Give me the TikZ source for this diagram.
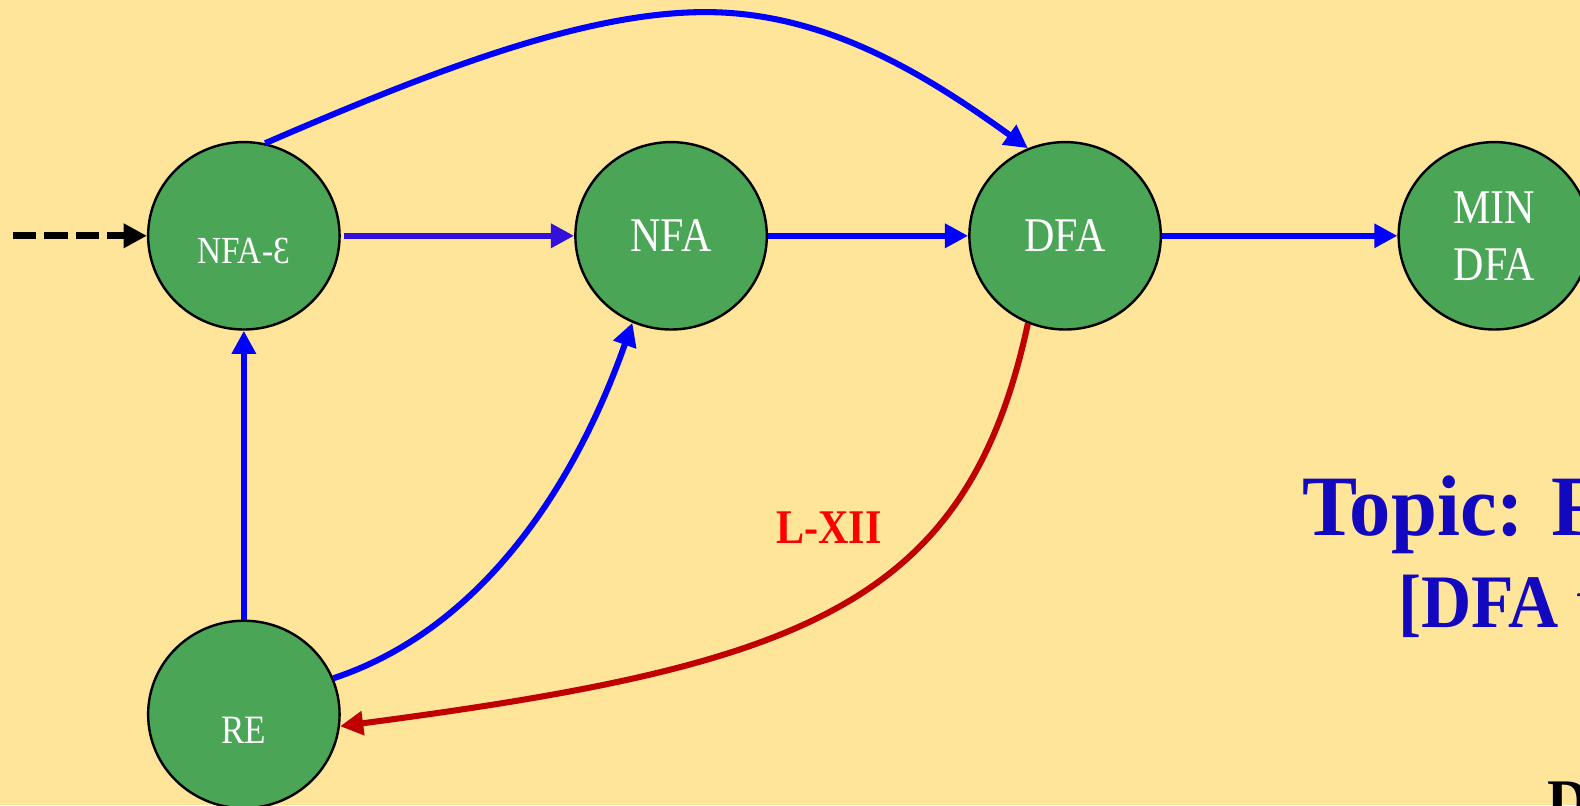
\documentclass[tikz,border=0pt]{standalone}
\usepackage{fontspec}
\usetikzlibrary{arrows.meta,shapes.geometric}
\newfontfamily\statefont{Liberation Serif}[FakeStretch=0.87]
\newfontfamily\topicfont{Liberation Serif}[FakeStretch=0.96]
\newfontfamily\subtopicfont{Liberation Serif}[FakeStretch=0.92]

\definecolor{bg}{RGB}{255,229,153}
\definecolor{stategreen}{RGB}{74,165,87}
\definecolor{edgeblue}{RGB}{0,0,255}
\definecolor{edgeviolet}{RGB}{51,17,217}
\definecolor{edgered}{RGB}{192,0,0}
\definecolor{labelred}{RGB}{255,0,0}
\definecolor{topicblue}{RGB}{18,8,191}

\begin{document}
\begin{tikzpicture}[x=0.5pt,y=-0.5pt,
  state/.style={ellipse, draw=black, line width=1.2pt, fill=stategreen,
    minimum width=95pt, minimum height=93pt, inner sep=0pt,
    text=white, align=center},
  tip/.style={-{Triangle[length=11.5pt,width=11.5pt]}},
  flow/.style={tip, line width=3pt, draw=edgeblue},
  backflow/.style={tip, line width=3pt, draw=edgered},
  entry/.style={tip, line width=3.3pt, draw=black, dash pattern=on 11.5pt off 4pt},
  bigtext/.style={anchor=base west, inner sep=0pt}]

  % canvas
  \useasboundingbox (0,0) rectangle (1568,799);
  \clip (0,0) rectangle (1568,799);
  \fill[bg] (0,0) rectangle (1568,799);

  % states
  \node[state, font=\statefont\fontsize{19}{22}\selectfont] (NFAe) at (242,234) {\raisebox{-7.5pt}[\height][\depth]{NFA-Ɛ}};
  \node[state, font=\statefont\fontsize{24}{28}\selectfont] (NFA)  at (666,234) {NFA};
  \node[state, font=\statefont\fontsize{24}{28}\selectfont] (DFA)  at (1057,234) {DFA};
  \node[state, font=\statefont\fontsize{24}{28.3}\selectfont] (MIN) at (1483,234) {MIN\\DFA};
  \node[state, font=\statefont\fontsize{20}{24}\selectfont] (RE)   at (242,709) {\raisebox{-8pt}[\height][\depth]{RE}};

  % start arrow
  \coordinate (start) at (13,234);
  \draw[entry] (start) -- (NFAe.west);

  % conversions
  \draw[tip, line width=3pt, draw=edgeviolet, shorten <=1.5pt] (NFAe) -- (NFA);
  \draw[flow] (NFA) -- (DFA);
  \draw[flow] (DFA) -- (MIN);
  \draw[flow] (RE) -- (NFAe);
  \draw[flow] (RE.22) .. controls (485,622) and (575,470) .. (NFA.246);
  \draw[flow] (NFAe.77) .. controls (430,70) and (580,12) .. (700,12)
        .. controls (820,12) and (920,75) .. (DFA.113);
  \draw[backflow] (DFA.247) .. controls (960,600) and (800,660) .. (RE.353);

  % labels
  \node[bigtext, font=\statefont\bfseries\fontsize{24}{28}\selectfont, text=labelred] (lec) at (770,539) {L-XII};
  \node[bigtext, font=\topicfont\bfseries\fontsize{42.7}{48}\selectfont, text=topicblue] (topic) at (1292,531) {Topic: F};
  \node[bigtext, font=\subtopicfont\bfseries\fontsize{37.5}{42}\selectfont, text=topicblue] (sub) at (1387,623) {[DFA t};
  \node[anchor=north west, inner sep=0pt, font=\topicfont\bfseries\fontsize{30}{34}\selectfont, text=black] (corner) at (1535,767) {\strut D};
\end{tikzpicture}
\end{document}
